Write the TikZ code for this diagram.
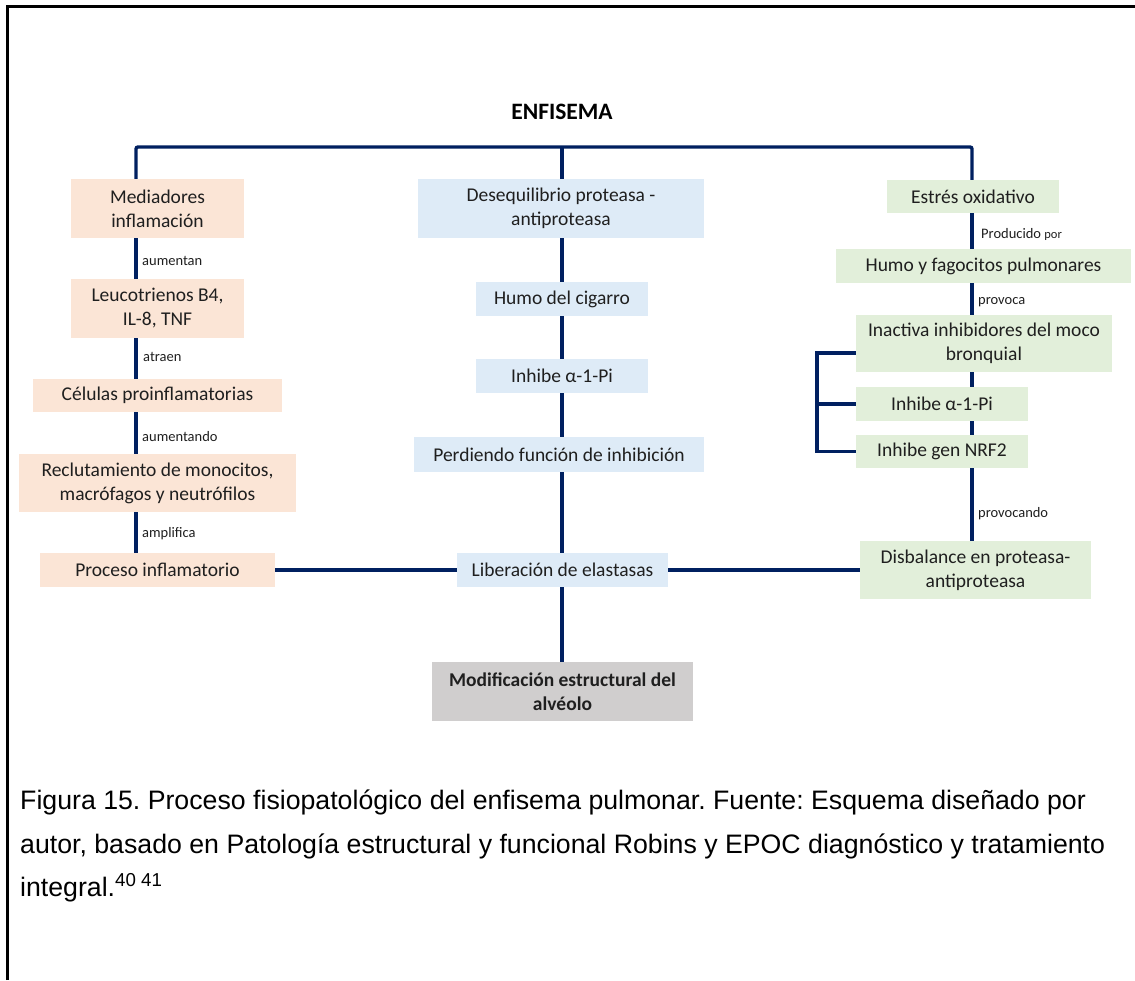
\documentclass[tikz,border=0pt]{standalone}
\usepackage{fontspec}
\setmainfont{Carlito}
\newfontfamily\capfont{Liberation Sans}
\definecolor{navy}{HTML}{002060}
\definecolor{peachfill}{HTML}{FBE5D6}
\definecolor{bluefill}{HTML}{DEEBF7}
\definecolor{greenfill}{HTML}{E2EFDA}
\definecolor{grayfill}{HTML}{D0CECE}
\frenchspacing
\begin{document}
\begin{tikzpicture}[x=1pt,y=-1pt,
  conn/.style={draw=navy, line width=3.4pt},
  boxbase/.style={inner sep=0pt, align=center, text=black!88,
    font=\fontsize{19.5}{24}\selectfont},
  peach/.style={boxbase, fill=peachfill},
  bluebox/.style={boxbase, fill=bluefill},
  greenbox/.style={boxbase, fill=greenfill},
  graybox/.style={boxbase, fill=grayfill, font=\fontsize{19.5}{24}\selectfont\bfseries},
  lbl/.style={anchor=west, inner sep=0pt, text=black!88, font=\fontsize{14.5}{17}\selectfont},
  capline/.style={anchor=base west, inner sep=0pt, font=\capfont\fontsize{26.7}{30}\selectfont}
]
\useasboundingbox (0,0) rectangle (1135,980);
% outer frame
\draw[line width=3pt] (7,980) -- (7,6) -- (1135,6);

% title
\node[font=\fontsize{23.5}{28}\selectfont\bfseries, inner sep=0pt] (title) at (562,112) {ENFISEMA};

% left column: inflammation
\node[peach, minimum width=173pt, minimum height=59pt] (m1) at (157.5,208.5) {Mediadores\\inflamación};
\node[peach, minimum width=173pt, minimum height=59pt] (m2) at (157.5,308.5) {Leucotrienos B4,\\IL-8, TNF};
\node[peach, minimum width=249pt, minimum height=33pt] (m3) at (157.5,395.5) {Células proinflamatorias};
\node[peach, minimum width=277pt, minimum height=58pt] (m4) at (157.5,483) {Reclutamiento de monocitos,\\macrófagos y neutrófilos};
\node[peach, minimum width=235pt, minimum height=34pt] (m5) at (157.5,570) {Proceso inflamatorio};

% centre column: protease imbalance
\node[bluebox, minimum width=286pt, minimum height=59pt] (c1) at (561,208.5) {Desequilibrio proteasa -\\antiproteasa};
\node[bluebox, minimum width=172pt, minimum height=34pt] (c2) at (562,299) {Humo del cigarro};
\node[bluebox, minimum width=172pt, minimum height=34pt] (c3) at (562,376) {Inhibe α-1-Pi};
\node[bluebox, minimum width=290pt, minimum height=35pt] (c4) at (559,454.5) {Perdiendo función de inhibición};
\node[bluebox, minimum width=211pt, minimum height=34pt] (c5) at (562.5,570) {Liberación de elastasas};
\node[graybox, minimum width=261pt, minimum height=59pt] (c6) at (562.5,691.5) {Modificación estructural del\\alvéolo};

% right column: oxidative stress
\node[greenbox, minimum width=172pt, minimum height=33pt] (r1) at (973,196.5) {Estrés oxidativo};
\node[greenbox, minimum width=295pt, minimum height=34pt] (r2) at (983.5,266) {Humo y fagocitos pulmonares};
\node[greenbox, minimum width=256pt, minimum height=57pt] (r3) at (984,343.5) {Inactiva inhibidores del moco\\bronquial};
\node[greenbox, minimum width=172pt, minimum height=34pt] (r4) at (942,404) {Inhibe α-1-Pi};
\node[greenbox, minimum width=172pt, minimum height=33pt] (r5) at (942,451.5) {Inhibe gen NRF2};
\node[greenbox, minimum width=231pt, minimum height=58pt] (r6) at (975.5,570) {Disbalance en proteasa-\\antiproteasa};

% guide coordinates for the vertical lines
\coordinate (L) at (136,147);
\coordinate (C) at (562,147);
\coordinate (R) at (972,147);
\coordinate (bt) at (817,353);

% top bus
\draw[conn, rounded corners=2pt] (m1.north -| L) -- (L) -- (R) -- (r1.north -| R);
\draw[conn] (C) -- (c1.north -| C);

% left chain
\draw[conn] (m1.south -| L) -- (m2.north -| L);
\draw[conn] (m2.south -| L) -- (m3.north -| L);
\draw[conn] (m3.south -| L) -- (m4.north -| L);
\draw[conn] (m4.south -| L) -- (m5.north -| L);

% centre chain
\draw[conn] (c1.south -| C) -- (c2.north -| C);
\draw[conn] (c2.south -| C) -- (c3.north -| C);
\draw[conn] (c3.south -| C) -- (c4.north -| C);
\draw[conn] (c4.south -| C) -- (c5.north -| C);
\draw[conn] (c5.south -| C) -- (c6.north -| C);

% right chain
\draw[conn] (r1.south -| R) -- (r2.north -| R);
\draw[conn] (r2.south -| R) -- (r3.north -| R);
\draw[conn] (r3.south -| R) -- (r4.north -| R);
\draw[conn] (r4.south -| R) -- (r5.north -| R);
\draw[conn] (r5.south -| R) -- (r6.north -| R);

% bracket grouping the three effects
\draw[conn] (r3.west |- bt) -- (bt) |- (r5.west);
\draw[conn] (bt |- r4.west) -- (r4.west);

% horizontal links into the elastase release
\draw[conn] (m5.east) -- (c5.west);
\draw[conn] (c5.east) -- (r6.west);

% connector labels
\node[lbl] (l1) at (142,261) {aumentan};
\node[lbl] (l2) at (143,357) {atraen};
\node[lbl] (l3) at (142,437) {aumentando};
\node[lbl] (l4) at (142,534) {amplifica};
\node[lbl] (l5) at (981,234) {Producido {\fontsize{12.5}{15}\selectfont por}};
\node[lbl] (l6) at (978,302) {provoca};
\node[lbl] (l7) at (978,514) {provocando};

% caption
\node[capline] (cap1) at (20,809) {Figura 15. Proceso fisiopatológico del enfisema pulmonar. Fuente: Esquema diseñado por};
\node[capline] (cap2) at (20,853) {autor, basado en Patología estructural y funcional Robins y EPOC diagnóstico y tratamiento};
\node[capline] (cap3) at (20,896) {integral.\textsuperscript{40 41}};
\end{tikzpicture}
\end{document}
